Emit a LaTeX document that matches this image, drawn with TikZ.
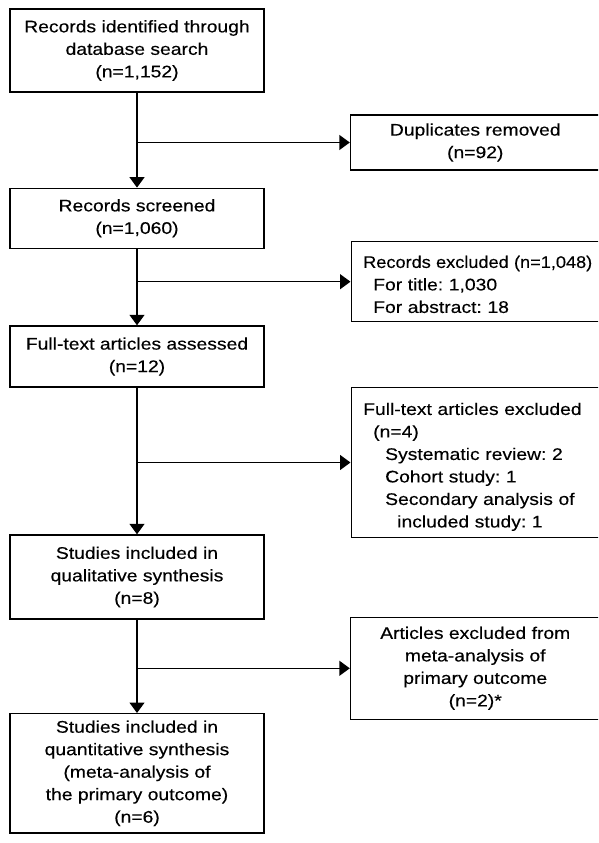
\documentclass[tikz,border=0pt]{standalone}
\usepackage{fontspec}
\setmainfont{Liberation Sans}[FakeStretch=1.15,FakeBold=0.3]
\usetikzlibrary{arrows.meta}
\frenchspacing

\begin{document}
\begin{tikzpicture}[x=1pt,y=-1pt,
    box/.style={draw,line width=1.4pt,inner sep=0pt,align=center,
      font=\fontsize{16.8}{22.5}\selectfont,
      execute at begin node={\rule{0pt}{20.9pt}},
      execute at end node={\rule[-3.5pt]{0pt}{3.5pt}}},
    leftbox/.style={box,align=left,anchor=west,inner xsep=12pt,
      text width=260pt},
    flow/.style={line width=1.4pt,-{Triangle[width=15pt,length=10.5pt]}}]
  \useasboundingbox (0,0) rectangle (598,843);
  \clip (0,0) rectangle (598,843);

  \node[box,minimum width=254pt,minimum height=83pt] (ident) at (137,50.5)
    {Records identified through\\database search\\(n=1,152)};
  \node[box,minimum width=254pt,minimum height=60pt] (screen) at (137,218.3)
    {Records screened\\(n=1,060)};
  \node[box,minimum width=254pt,minimum height=61pt] (fulltext) at (137,356.5)
    {Full-text articles assessed\\(n=12)};
  \node[box,minimum width=254pt,minimum height=84pt] (qual) at (137,577)
    {Studies included in\\qualitative synthesis\\(n=8)};
  \node[box,minimum width=254pt,inner ysep=6.8pt,anchor=north] (quant) at (137,713)
    {Studies included in\\quantitative synthesis\\(meta-analysis of\\the primary outcome)\\(n=6)};

  \node[box,minimum width=249.5pt,minimum height=55pt] (dup) at (475.25,142.5)
    {Duplicates removed\\(n=92)};
  \node[leftbox,minimum height=80pt] (recexcl) at (350.5,281.7)
    {\scalebox{0.94}[1]{Records excluded (n=1,048)}\\\hspace*{10pt}For title: 1,030\\\hspace*{10pt}For abstract: 18};
  \node[leftbox,minimum height=150.4pt] (ftexcl) at (350.5,462.5)
    {Full-text articles excluded\\\hspace*{10pt}(n=4)\\\hspace*{22pt}Systematic review: 2\\
     \hspace*{22pt}Cohort study: 1\\\hspace*{22pt}Secondary analysis of\\\hspace*{34pt}included study: 1};
  \node[box,minimum width=249.5pt,minimum height=102pt] (artexcl) at (475.25,668.3)
    {Articles excluded from\\meta-analysis of\\primary outcome\\(n=2)*};

  \coordinate (b1) at (ident |- dup);
  \coordinate (b2) at (ident |- recexcl);
  \coordinate (b3) at (ident |- ftexcl);
  \coordinate (b4) at (ident |- artexcl);

  \draw[flow] (ident) -- (screen);
  \draw[flow] (screen) -- (fulltext);
  \draw[flow] (fulltext) -- (qual);
  \draw[flow] (qual) -- (quant);

  \draw[flow] (b1) -- (dup);
  \draw[flow] (b2) -- (recexcl);
  \draw[flow] (b3) -- (ftexcl);
  \draw[flow] (b4) -- (artexcl);
\end{tikzpicture}
\end{document}
